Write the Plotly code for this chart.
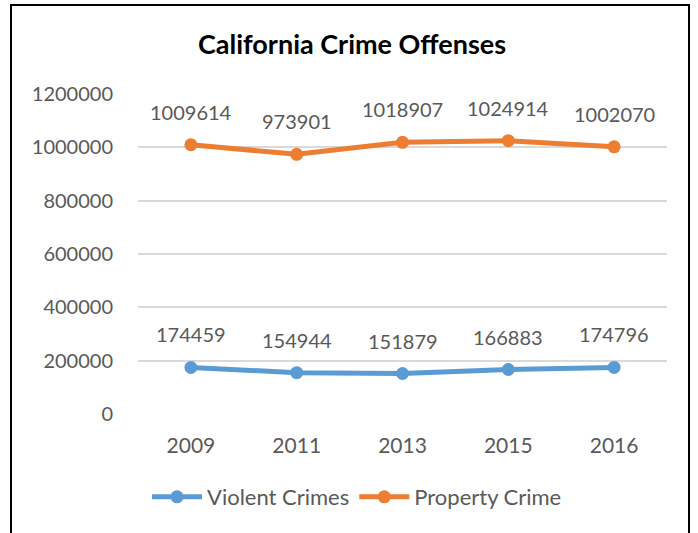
import plotly.graph_objects as go

# Chart data
years = ["2009", "2011", "2013", "2015", "2016"]
violent_crimes = [174459, 154944, 151879, 166883, 174796]
property_crime = [1009614, 973901, 1018907, 1024914, 1002070]

W, H = 698, 533
L, R, T, B = 138, 31, 94, 119
FONT = "Lato"
GREY = "#595959"

fig = go.Figure()

series = [
    ("Violent Crimes", violent_crimes, "#5B9BD5"),
    ("Property Crime", property_crime, "#ED7D31"),
]
for name, vals, color in series:
    fig.add_trace(go.Scatter(
        x=years, y=vals, name=name, mode="lines+markers",
        line=dict(color=color, width=5),
        marker=dict(color=color, size=13),
    ))
    # value labels above each point (x by category index)
    for i, v in enumerate(vals):
        fig.add_annotation(x=i, y=v, text=str(v), showarrow=False,
                           yshift=33, font=dict(family=FONT, size=20, color=GREY))

pw = W - L - R
ph = H - T - B
# black frame around the chart
fig.add_shape(type="rect", xref="paper", yref="paper",
              x0=(11 - L) / pw, x1=(689 - L) / pw,
              y0=(H - 545 - B) / ph, y1=(H - 5 - B) / ph,
              line=dict(color="black", width=2), layer="below")

fig.update_layout(
    width=W, height=H,
    margin=dict(l=L, r=R, t=T, b=B),
    paper_bgcolor="white", plot_bgcolor="white",
    font=dict(family=FONT, size=20, color=GREY),
    title=dict(text="<b>California Crime Offenses</b>", x=(352 - L) / pw, xref="paper",
               xanchor="center", y=1 - 45 / H, yanchor="middle",
               font=dict(family=FONT, size=27, color="black")),
    showlegend=True,
    legend=dict(orientation="h", x=(357 - L) / pw, xanchor="center",
                y=(414 - 497) / ph, yanchor="middle", itemwidth=50,
                font=dict(family=FONT, size=22, color=GREY)),
)
fig.update_xaxes(type="category", range=[-0.5, 4.5], showgrid=False,
                 showline=False, ticks="", ticklabelstandoff=17,
                 tickfont=dict(size=21))
fig.update_yaxes(range=[0, 1200000], dtick=200000, tickformat="d",
                 gridcolor="#D9D9D9", gridwidth=1.5, zeroline=False,
                 showline=False, ticks="", ticklabelstandoff=24)

# page has a default 8px body margin; drop it so the figure sits at 0,0
fig.write_html("out.html", config={"displayModeBar": False},
               post_script="document.body.style.margin='0';")
